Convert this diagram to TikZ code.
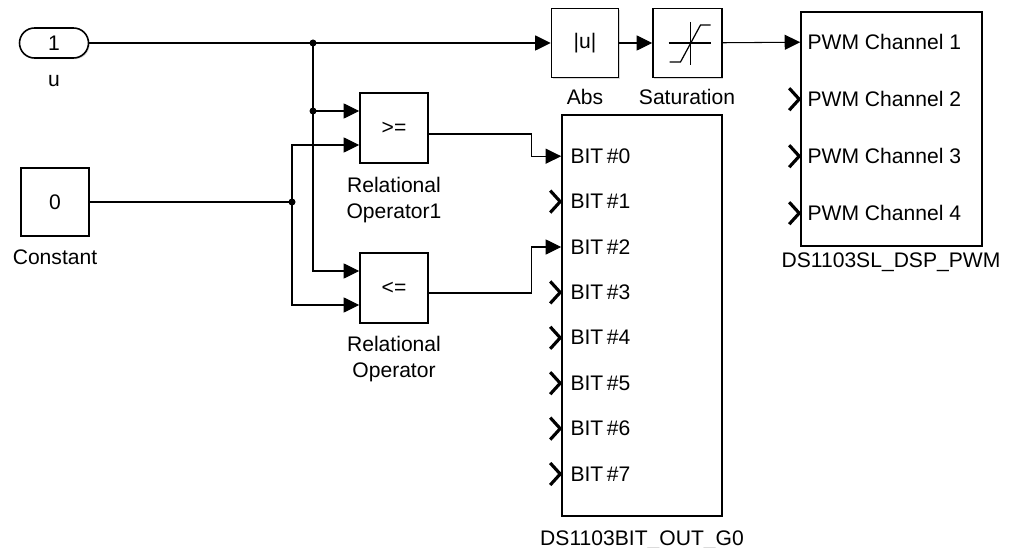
\documentclass[tikz,border=0pt]{standalone}
\usepackage{fontspec}
\setmainfont{Liberation Sans}
\usetikzlibrary{arrows.meta, calc, shadows}

\begin{document}
\begin{tikzpicture}[x=0.2mm, y=-0.2mm,
    font=\fontsize{12}{14.7}\selectfont,
    block/.style={draw, line width=0.9pt, fill=white, inner sep=0pt,
        drop shadow={shadow xshift=0.7pt, shadow yshift=-0.7pt, fill=black!30}},
    sig/.style={line width=0.6pt, -{Triangle[length=3.1mm, width=3mm]}},
    wire/.style={line width=0.6pt},
    dot/.style={circle, fill, inner sep=0pt, minimum size=1.4mm},
    port/.style={line width=1.8pt},
    lbl/.style={align=center, inner sep=0pt}]
\useasboundingbox (0,0) rectangle (1010,548);

% blocks
\node[block, rounded corners=3mm, minimum width=13.8mm, minimum height=6mm] (u) at (54,43) {1};
\node[block, minimum width=13.6mm, minimum height=13.6mm] (const) at (55,202) {0};
\node[block, minimum width=13.6mm, minimum height=14mm] (rop1) at (394,128) {>=};
\node[block, minimum width=13.6mm, minimum height=14mm] (rop) at (394,288) {<=};
\node[block, minimum width=13.4mm, minimum height=13.8mm] (abs) at (585,43) {|u|};
\node[block, minimum width=13.8mm, minimum height=13.8mm] (sat) at (687.5,43) {};
\node[block, minimum width=32mm, minimum height=80.2mm] (bitout) at (642,315.5) {};
\node[block, minimum width=36.2mm, minimum height=46.8mm] (pwm) at (891.5,129) {};

% saturation icon
\draw[wire] ($(sat)+(-19,0)$) -- ($(sat)+(23,0)$);
\draw[wire] ($(sat)+(3,-21)$) -- ($(sat)+(3,22)$);
\draw[line width=0.7pt] ($(sat)+(-18,19)$) -- ++(11,0) -- ++(20,-37) -- ++(10,0);

% names
\node[lbl, anchor=base] (u-name) at (54,87) {u};
\node[lbl, anchor=base] (const-name) at (55,265) {Constant};
\node[lbl, anchor=north] (rop1-name) at (394,177) {Relational\\Operator1};
\node[lbl, anchor=north] (rop-name) at (394,336) {Relational\\Operator};
\node[lbl, anchor=base] (abs-name) at (585,105) {Abs};
\node[lbl, anchor=base] (sat-name) at (687,105) {Saturation};
\node[lbl, anchor=base] (bitout-name) at (642,545) {DS1103BIT\_OUT\_G0};
\node[lbl, anchor=base] (pwm-name) at (891,267) {DS1103SL\_DSP\_PWM};

% ports
\coordinate (rop1-in1) at ($(rop1.west)+(0,-17)$);
\coordinate (rop1-in2) at ($(rop1.west)+(0,17)$);
\coordinate (rop-in1) at ($(rop.west)+(0,-17)$);
\coordinate (rop-in2) at ($(rop.west)+(0,17)$);
\coordinate (rop1-out) at ($(rop1.east)+(0,6)$);
\coordinate (rop-out) at ($(rop.east)+(0,5)$);
\foreach \k in {0,...,7} {
  \coordinate (bit\k) at ($(bitout.north west)+(0,42+45.4*\k)$);
  \node[lbl, anchor=base west] (bit\k-name) at ($(bit\k)+(9,7)$) {BIT\,\#\k};
}
\foreach \k in {1,...,4} {
  \coordinate (pwm\k) at ($(pwm.north west)+(0,31+57*\k-57)$);
  \node[lbl, anchor=base west] (pwm\k-name) at ($(pwm\k)+(7,7)$) {PWM Channel \k};
}
\foreach \k in {1,3,4,5,6,7}
  \draw[port] ($(bit\k)+(-11,-11)$) -- ($(bit\k)+(-1,0)$) -- ($(bit\k)+(-11,11)$);
\foreach \k in {2,3,4}
  \draw[port] ($(pwm\k)+(-11,-11)$) -- ($(pwm\k)+(-1,0)$) -- ($(pwm\k)+(-11,11)$);

% junctions
\coordinate (j1) at (313,43);
\coordinate (j2) at (j1 |- rop1-in1);
\coordinate (j3) at (const.east -| 292,0);

% signals
\draw[sig] (u) -- (abs);
\draw[sig] (abs) -- (sat);
\draw[sig] (sat) -- (pwm1);
\draw[sig] (j1) |- (rop-in1);
\draw[sig] (j2) -- (rop1-in1);
\draw[wire] (const) -- (j3);
\draw[sig] (j3) |- (rop1-in2);
\draw[sig] (j3) |- (rop-in2);
\draw[sig] (rop1-out) -- ++(103,0) |- (bit0);
\draw[sig] (rop-out) -- ++(103,0) |- (bit2);

\foreach \j in {j1,j2,j3}
  \node[dot] at (\j) {};
\end{tikzpicture}
\end{document}
